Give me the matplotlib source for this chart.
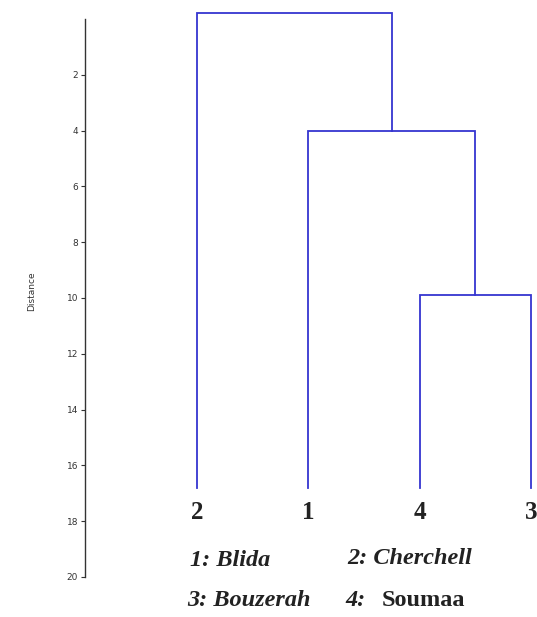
import matplotlib
matplotlib.use('Agg')
import matplotlib.pyplot as plt

# leaves in plotted order and their site numbers
leaf_labels = ['2', '1', '4', '3']
leaf_base = 16.8

# linkage rows: (child a, child b, height); ids >= 4 are earlier merges
merges = [
    (2, 3, 9.9),
    (1, 4, 4.0),
    (0, 5, -0.2),
]

legend_left = ['1: Blida', '3: Bouzerah']
legend_right = ['2: Cherchell', '4: Soumaa']

yticks = list(range(2, 21, 2))

W, H = 537, 617
fig = plt.figure(figsize=(W / 100, H / 100), dpi=100)
ax = fig.add_axes([85 / W, 1 - 577 / H, 1 - 85 / W, (577 - 5) / H])

col = '#3535d0'
n = len(leaf_labels)
xpos = {i: float(i) for i in range(n)}
ypos = {i: leaf_base for i in range(n)}
for k, (a, b, h) in enumerate(merges):
    ax.plot([xpos[a], xpos[a], xpos[b], xpos[b]],
            [ypos[a], h, h, ypos[b]], color=col, lw=1.3,
            solid_joinstyle='miter')
    xpos[n + k] = (xpos[a] + xpos[b]) / 2
    ypos[n + k] = h

for i, lab in enumerate(leaf_labels):
    ax.text(i, 17.7, lab, ha='center', va='center', weight='bold',
            fontsize=18, family='Liberation Serif', clip_on=False,
            color='#222222')

ax.set_xlim((85 - 197) / 111.3, (537 - 197) / 111.3)
ax.set_ylim(20, -0.5)
for s in ['top', 'right', 'bottom']:
    ax.spines[s].set_visible(False)
ax.spines['left'].set_bounds(0, 20)
ax.spines['left'].set_linewidth(1.0)
ax.spines['left'].set_color('#333333')
ax.set_xticks([])
ax.set_yticks(yticks)
ax.tick_params(axis='y', length=3, width=0.8, labelsize=6.5,
               colors='#333333', pad=2)
ax.set_ylabel('Distance', fontsize=6.5, labelpad=22, color='#333333')

kw = dict(fontsize=17.5, family='Liberation Serif', style='italic',
          weight='bold', va='center', color='#222222')
fig.text(190 / W, 1 - 561 / H, legend_left[0], **kw)
fig.text(187 / W, 1 - 600 / H, legend_left[1], **kw)
fig.text(347 / W, 1 - 558 / H, legend_right[0], **kw)
num, name = legend_right[1].split(' ', 1)
fig.text(345 / W, 1 - 600 / H, num, **kw)
fig.text(382 / W, 1 - 600 / H, name, fontsize=17.5, family='Liberation Serif',
         weight='bold', va='center', color='#222222')

fig.savefig('out.png', dpi=100)
